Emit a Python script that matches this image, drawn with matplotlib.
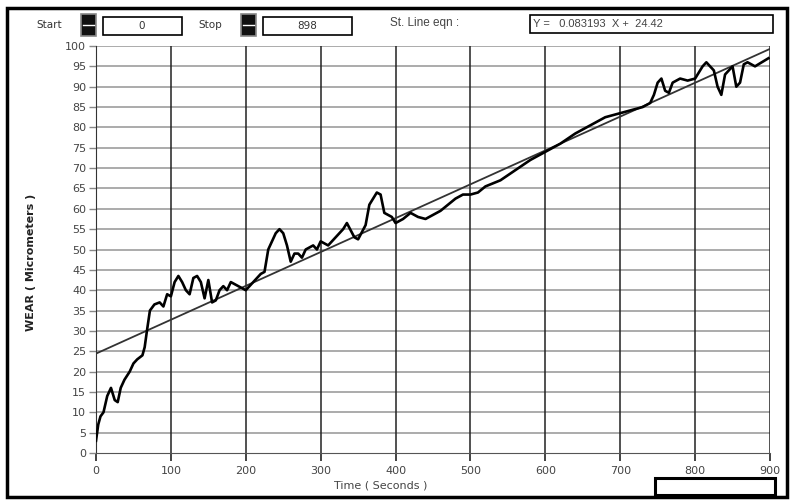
import matplotlib
matplotlib.use("Agg")
import matplotlib.pyplot as plt
from matplotlib.patches import Rectangle

# wear curve
time = [0, 3, 6, 10, 15, 20, 25, 29, 33, 38, 45, 50, 55, 62, 65, 68, 72, 78, 85, 90,
        95, 100, 105, 110, 115, 120, 125, 130, 135, 140, 145, 150, 155, 160, 165, 170,
        175, 180, 185, 190, 200, 210, 220, 225, 230, 240, 245, 250, 255, 260, 265, 270,
        275, 280, 290, 295, 300, 310, 320, 330, 335, 345, 350, 360, 365, 375, 380, 385,
        395, 400, 410, 420, 430, 440, 450, 460, 470, 480, 490, 500, 510, 520, 540, 560,
        580, 600, 620, 640, 660, 680, 700, 720, 730, 740, 745, 750, 755, 760, 765, 770,
        780, 790, 800, 810, 815, 825, 830, 835, 840, 845, 850, 855, 860, 865, 870, 880,
        898]
wear = [3, 7, 9, 10, 14, 16, 13, 12.5, 16, 18, 20, 22, 23, 24, 26, 30, 35, 36.5, 37, 36,
        39, 38.5, 42, 43.5, 42, 40, 39, 43, 43.5, 42, 38, 42.5, 37, 37.5, 40, 41,
        40, 42, 41.5, 41, 40, 42, 44, 44.5, 50, 54, 55, 54, 51, 47, 49, 49,
        48, 50, 51, 50, 52, 51, 53, 55, 56.5, 53, 52.5, 56, 61, 64, 63.5, 59,
        58, 56.5, 57.5, 59, 58, 57.5, 58.5, 59.5, 61, 62.5, 63.5, 63.5, 64, 65.5, 67, 69.5,
        72, 74, 76, 78.5, 80.5, 82.5, 83.5, 84.5, 85, 86, 88, 91, 92, 89, 88.5, 91,
        92, 91.5, 92, 95, 96, 94, 90, 88, 93, 94, 95, 90, 91, 95.5, 96, 95,
        97]

slope = 0.083193
intercept = 24.42
fit_x = [0, 900]
fit_y = [intercept + slope * x for x in fit_x]

x_ticks = list(range(0, 901, 100))
y_ticks = list(range(0, 101, 5))

W, H = 795, 500
fig = plt.figure(figsize=(7.95, 5.0), dpi=100)
fig.patch.set_facecolor("white")

def fx(px):
    return px / W

def fy(py):
    return 1 - py / H

ax = fig.add_axes([fx(96), fy(453), fx(770) - fx(96), fy(46) - fy(453)])
ax.set_xlim(0, 900)
ax.set_ylim(0, 100)
ax.set_xticks(x_ticks)
ax.set_yticks(y_ticks)
for y in y_ticks[1:]:
    ax.axhline(y, color="#ababab", lw=1.4, zorder=1)
for x in x_ticks[1:]:
    ax.axvline(x, color="#222222", lw=1.1, zorder=2)

ax.plot(fit_x, fit_y, color="#333333", lw=1.3, zorder=3)
ax.plot(time, wear, color="black", lw=1.9, zorder=4)

for s in ["top", "right"]:
    ax.spines[s].set_visible(False)
ax.spines["left"].set_color("#333333")
ax.spines["bottom"].set_color("#555555")
ax.tick_params(axis="y", length=5, width=1, color="#888888", labelsize=8,
               labelcolor="#444444", pad=2)
ax.tick_params(axis="x", length=6, width=1.2, color="#222222", labelsize=8,
               labelcolor="#444444", pad=3)

fig.text(fx(381), fy(485), "Time ( Seconds )", ha="center", va="center",
         fontsize=8, color="#444444")
fig.text(fx(31), fy(262), "WEAR ( Micrometers )", rotation=90, ha="center",
         va="center", fontsize=8, fontweight="bold",
         family=["Liberation Sans Narrow", "DejaVu Sans"], color="#222222")

# outer frame
fig.add_artist(Rectangle((fx(7), fy(497)), fx(787) - fx(7), fy(8) - fy(497),
                         transform=fig.transFigure, fill=False, ec="black", lw=2.5))

def box(x0, y0, x1, y1, lw=1.2):
    fig.add_artist(Rectangle((fx(x0), fy(y1)), fx(x1) - fx(x0), fy(y0) - fy(y1),
                             transform=fig.transFigure, fill=False, ec="black", lw=lw))

def spinner(x0, y0, x1, y1):
    fig.add_artist(Rectangle((fx(x0), fy(y1)), fx(x1) - fx(x0), fy(y0) - fy(y1),
                             transform=fig.transFigure, fc="#111111", ec="#888888", lw=1.2))
    ym = (y0 + y1) / 2
    fig.add_artist(plt.Line2D([fx(x0 + 2), fx(x1 - 2)], [fy(ym), fy(ym)],
                              transform=fig.transFigure, color="white", lw=1))

fig.text(fx(36), fy(25), "Start", ha="left", va="center", fontsize=7.5, color="#333333")
spinner(81, 14, 96, 36)
box(103, 17, 182, 35)
fig.text(fx(142), fy(26), "0", ha="center", va="center", fontsize=7.5, color="#333333")

fig.text(fx(198), fy(25), "Stop", ha="left", va="center", fontsize=7.5, color="#333333")
spinner(241, 14, 256, 36)
box(263, 17, 352, 35)
fig.text(fx(307), fy(26), "898", ha="center", va="center", fontsize=7.5, color="#333333")

fig.text(fx(390), fy(23), "St. Line eqn :", ha="left", va="center", fontsize=8.5,
         color="#444444", family=["Liberation Sans", "DejaVu Sans"])
box(530, 15, 773, 33)
fig.text(fx(533), fy(24), "Y =   0.083193  X +  24.42", ha="left", va="center",
         fontsize=8, color="#444444", family=["Liberation Sans", "DejaVu Sans"])

box(655, 478, 775, 495, lw=2.2)

fig.savefig("out.png", dpi=100)
